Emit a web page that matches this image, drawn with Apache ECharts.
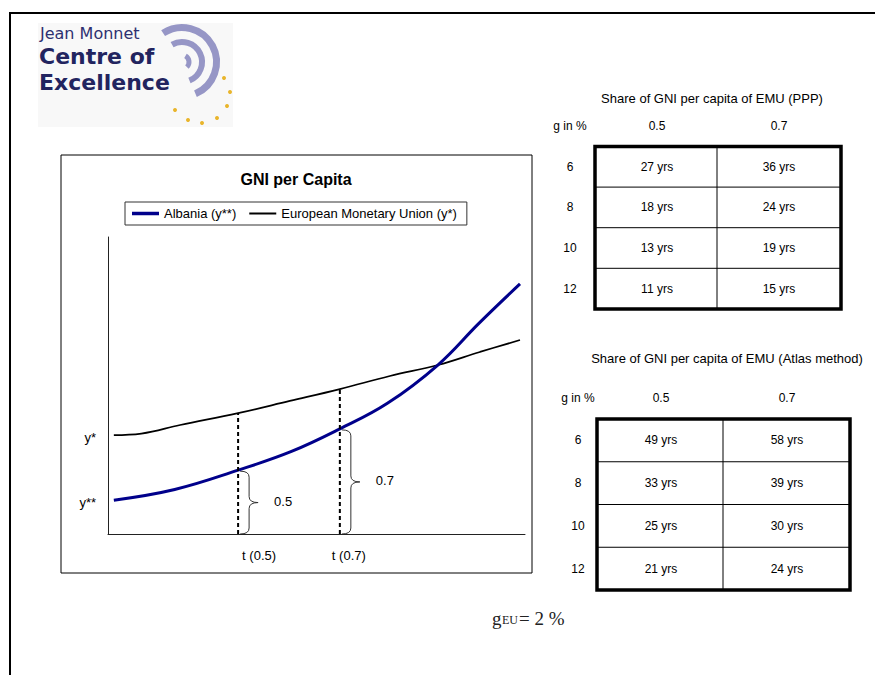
<!DOCTYPE html>
<html>
<head>
<meta charset="utf-8">
<title>GNI per Capita</title>
<script src="https://cdn.jsdelivr.net/npm/echarts@6/dist/echarts.min.js"></script>
<style>
  html, body { margin: 0; padding: 0; background: #fff; }
  #main { width: 875px; height: 675px; }
</style>
</head>
<body>
<div id="main"></div>
<script>
// curves, [t, y] (axes run 0..100)
var albania = [[1.4, 11.4], [16, 15.0], [31.2, 21.5], [44, 27.8], [55.6, 35.4], [67, 44.0], [79.1, 56.9], [89, 71.0], [98.8, 84.2]];
var emu = [[1.4, 33.3], [8, 33.8], [17.3, 36.7], [31.2, 40.7], [43.6, 44.8], [55.6, 48.8], [67.6, 53.2], [79.1, 56.9], [89.2, 61.3], [98.8, 65.3]];
var tValues = [31.2, 55.6];
var tLabels = ['t (0.5)', 't (0.7)'];
var braceLabels = ['0.5', '0.7'];
var yLabels = ['y*', 'y**'];

// the two tables
var growthRates = ['6', '8', '10', '12'];
var shareLevels = ['0.5', '0.7'];
var pppYears05 = [27, 18, 13, 11];
var pppYears07 = [36, 24, 19, 15];
var atlasYears05 = [49, 33, 25, 21];
var atlasYears07 = [58, 39, 30, 24];
var gEU = 2;

var font = 'Liberation Sans, Arial, Helvetica, sans-serif';
var logoFont = 'DejaVu Sans, sans-serif';

function valueAt(arr, t) {
  return arr.find(function (p) { return p[0] === t; })[1];
}

function text(x, y, str, size, extra) {
  var style = {
    text: str, fill: '#000', fontSize: size, fontFamily: font,
    align: 'center', verticalAlign: 'middle', lineHeight: size
  };
  if (extra) Object.assign(style, extra);
  return { type: 'text', x: x, y: y, silent: true, style: style };
}

function line(x1, y1, x2, y2, w, color) {
  return {
    type: 'line', silent: true,
    shape: { x1: x1, y1: y1, x2: x2, y2: y2 },
    style: { stroke: color || '#000', lineWidth: w }
  };
}

function curve(x1, y1, cx, cy, x2, y2) {
  return {
    type: 'bezierCurve', silent: true,
    shape: { x1: x1, y1: y1, cpx1: cx, cpy1: cy, x2: x2, y2: y2 },
    style: { fill: null, stroke: '#333', lineWidth: 1 }
  };
}

function buildTable(t, col05, col07) {
  var els = [];
  els.push(text(t.titleX, t.titleY, t.title, 13));
  els.push(text(t.labelX, t.headY, 'g in %', 12));
  shareLevels.forEach(function (s, i) {
    els.push(text(t.cols[i], t.headY, s, 12));
  });
  growthRates.forEach(function (g, r) {
    var cy = t.top + (r + 0.5) * t.rowH;
    els.push(text(t.labelX, cy, g, 12));
    els.push(text(t.cols[0], cy, col05[r] + ' yrs', 12));
    els.push(text(t.cols[1], cy, col07[r] + ' yrs', 12));
    if (r > 0) els.push(line(t.left, t.top + r * t.rowH, t.right, t.top + r * t.rowH, 1));
  });
  els.push(line(t.mid, t.top, t.mid, t.bottom, 1));
  els.push({
    type: 'rect', silent: true,
    shape: { x: t.left, y: t.top, width: t.right - t.left, height: t.bottom - t.top },
    style: { fill: null, stroke: '#000', lineWidth: 3.5 }
  });
  return els;
}

var myChart = echarts.init(document.getElementById('main'), null, { renderer: 'svg' });

var axisStyle = {
  type: 'value', min: 0, max: 100,
  axisLine: { show: true, lineStyle: { color: '#222', width: 1 } },
  axisTick: { show: false },
  axisLabel: { show: false },
  splitLine: { show: false }
};

var option = {
  animation: false,
  textStyle: { fontFamily: font },
  grid: { left: 108, top: 237, width: 417, height: 297 },
  legend: {
    left: 125, top: 202,
    data: [
      { name: 'Albania (y**)', icon: 'path://M0,0h27v3.5h-27z' },
      { name: 'European Monetary Union (y*)', icon: 'path://M0,0h27v2h-27z' }
    ],
    borderColor: '#333', borderWidth: 1,
    padding: [5, 10, 5, 7],
    itemGap: 13, itemWidth: 27, itemHeight: 4,
    textStyle: { fontSize: 13, color: '#000', fontFamily: font }
  },
  xAxis: axisStyle,
  yAxis: axisStyle,
  series: [
    {
      name: 'Albania (y**)', type: 'line', data: albania, smooth: 0.4,
      symbol: 'none', z: 4,
      lineStyle: { color: '#00008b', width: 3 }, itemStyle: { color: '#00008b' }
    },
    {
      name: 'European Monetary Union (y*)', type: 'line', data: emu, smooth: 0.4,
      symbol: 'none', z: 3,
      lineStyle: { color: '#000', width: 1.7 }, itemStyle: { color: '#000' }
    }
  ].concat(tValues.map(function (t) {
    return {
      type: 'line', data: [[t, 0], [t, valueAt(emu, t)]], symbol: 'none', silent: true, z: 5,
      lineStyle: { color: '#000', width: 2, type: [4, 3] }
    };
  }))
};
myChart.setOption(option);

// static slide parts
var graphics = [];

// slide frame
graphics.push(line(10, 13, 875, 13, 2));
graphics.push(line(10, 12, 10, 675, 2));

// logo
graphics.push({ type: 'rect', silent: true, shape: { x: 38, y: 23, width: 195, height: 104 }, style: { fill: '#f8f8f8' } });
graphics.push({ type: 'arc', silent: true, shape: { cx: 182, cy: 62, r: 34.5, startAngle: -2.15, endAngle: 1.17 }, style: { fill: null, stroke: '#9696c6', lineWidth: 7 } });
graphics.push({ type: 'arc', silent: true, shape: { cx: 182, cy: 62, r: 20, startAngle: -2.09, endAngle: 1.19 }, style: { fill: null, stroke: '#9696c6', lineWidth: 6 } });
graphics.push({ type: 'arc', silent: true, shape: { cx: 182, cy: 62, r: 7, startAngle: -1.05, endAngle: 0.8 }, style: { fill: null, stroke: '#9696c6', lineWidth: 5 } });
[[224, 78], [230, 92], [227, 106], [217, 118], [202, 123], [188, 120], [175, 110]].forEach(function (s) {
  graphics.push({ type: 'circle', silent: true, shape: { cx: s[0], cy: s[1], r: 2 }, style: { fill: '#e9b52c' } });
});
graphics.push(text(40, 33.5, 'Jean Monnet', 16, { align: 'left', fill: '#2e3070', fontFamily: logoFont }));
graphics.push(text(39, 56, 'Centre of', 22, { align: 'left', fill: '#22245f', fontWeight: 'bold', fontFamily: logoFont }));
graphics.push(text(39, 82.5, 'Excellence', 22, { align: 'left', fill: '#22245f', fontWeight: 'bold', fontFamily: logoFont }));

// chart frame and title
graphics.push({ type: 'rect', silent: true, z: -1, shape: { x: 61, y: 155, width: 471, height: 418 }, style: { fill: null, stroke: '#000', lineWidth: 1 } });
graphics.push(text(296, 179, 'GNI per Capita', 16, { fontWeight: 'bold' }));

// tables
graphics = graphics.concat(buildTable({
  title: 'Share of GNI per capita of EMU (PPP)', titleX: 712, titleY: 98,
  headY: 126, labelX: 570, cols: [657, 779],
  left: 595, right: 841, top: 146.5, bottom: 309, mid: 717, rowH: 40.6
}, pppYears05, pppYears07));
graphics = graphics.concat(buildTable({
  title: 'Share of GNI per capita of EMU (Atlas method)', titleX: 727, titleY: 358,
  headY: 398, labelX: 578, cols: [661, 787],
  left: 597, right: 850, top: 419, bottom: 590, mid: 723, rowH: 42.75
}, atlasYears05, atlasYears07));

// g_EU = 2 %
var serif = 'Liberation Serif, Times New Roman, serif';
graphics.push(text(492, 618, 'g', 19, { align: 'left', fontFamily: serif, fill: '#222' }));
graphics.push(text(502, 620, 'EU', 12, { align: 'left', fontFamily: serif, fill: '#222' }));
graphics.push(text(519, 618, '= ' + gEU + ' %', 19, { align: 'left', fontFamily: serif, fill: '#222' }));

// parts placed through the chart's own scales
function px(p) { return myChart.convertToPixel({ gridIndex: 0 }, p); }

var startVals = [emu[0][1], albania[0][1]];
yLabels.forEach(function (lab, i) {
  var p = px([0, startVals[i]]);
  graphics.push(text(p[0] - 12, p[1] + 2, lab, 13, { align: 'right' }));
});

var tLabelShift = [21, 9];
tValues.forEach(function (t, i) {
  var base = px([t, 0]);
  var top = px([t, valueAt(albania, t)]);
  graphics.push(text(base[0] + tLabelShift[i], base[1] + 21, tLabels[i], 13));

  // curly brace from the axis up to the Albania curve
  var x0 = base[0] + 2, w = 18, xm = x0 + w / 2;
  var yT = top[1] + 1, yB = base[1], ym = (yT + yB) / 2, r = 6;
  graphics.push(curve(x0, yT, xm, yT, xm, yT + r));
  graphics.push(line(xm, yT + r, xm, ym - r, 1, '#333'));
  graphics.push(curve(xm, ym - r, xm, ym, x0 + w, ym));
  graphics.push(curve(x0 + w, ym, xm, ym, xm, ym + r));
  graphics.push(line(xm, ym + r, xm, yB - r, 1, '#333'));
  graphics.push(curve(xm, yB - r, xm, yB, x0, yB));
  graphics.push(text(x0 + w + 16, ym - 1, braceLabels[i], 13, { align: 'left' }));
});

myChart.setOption({ graphic: graphics });
</script>
</body>
</html>
